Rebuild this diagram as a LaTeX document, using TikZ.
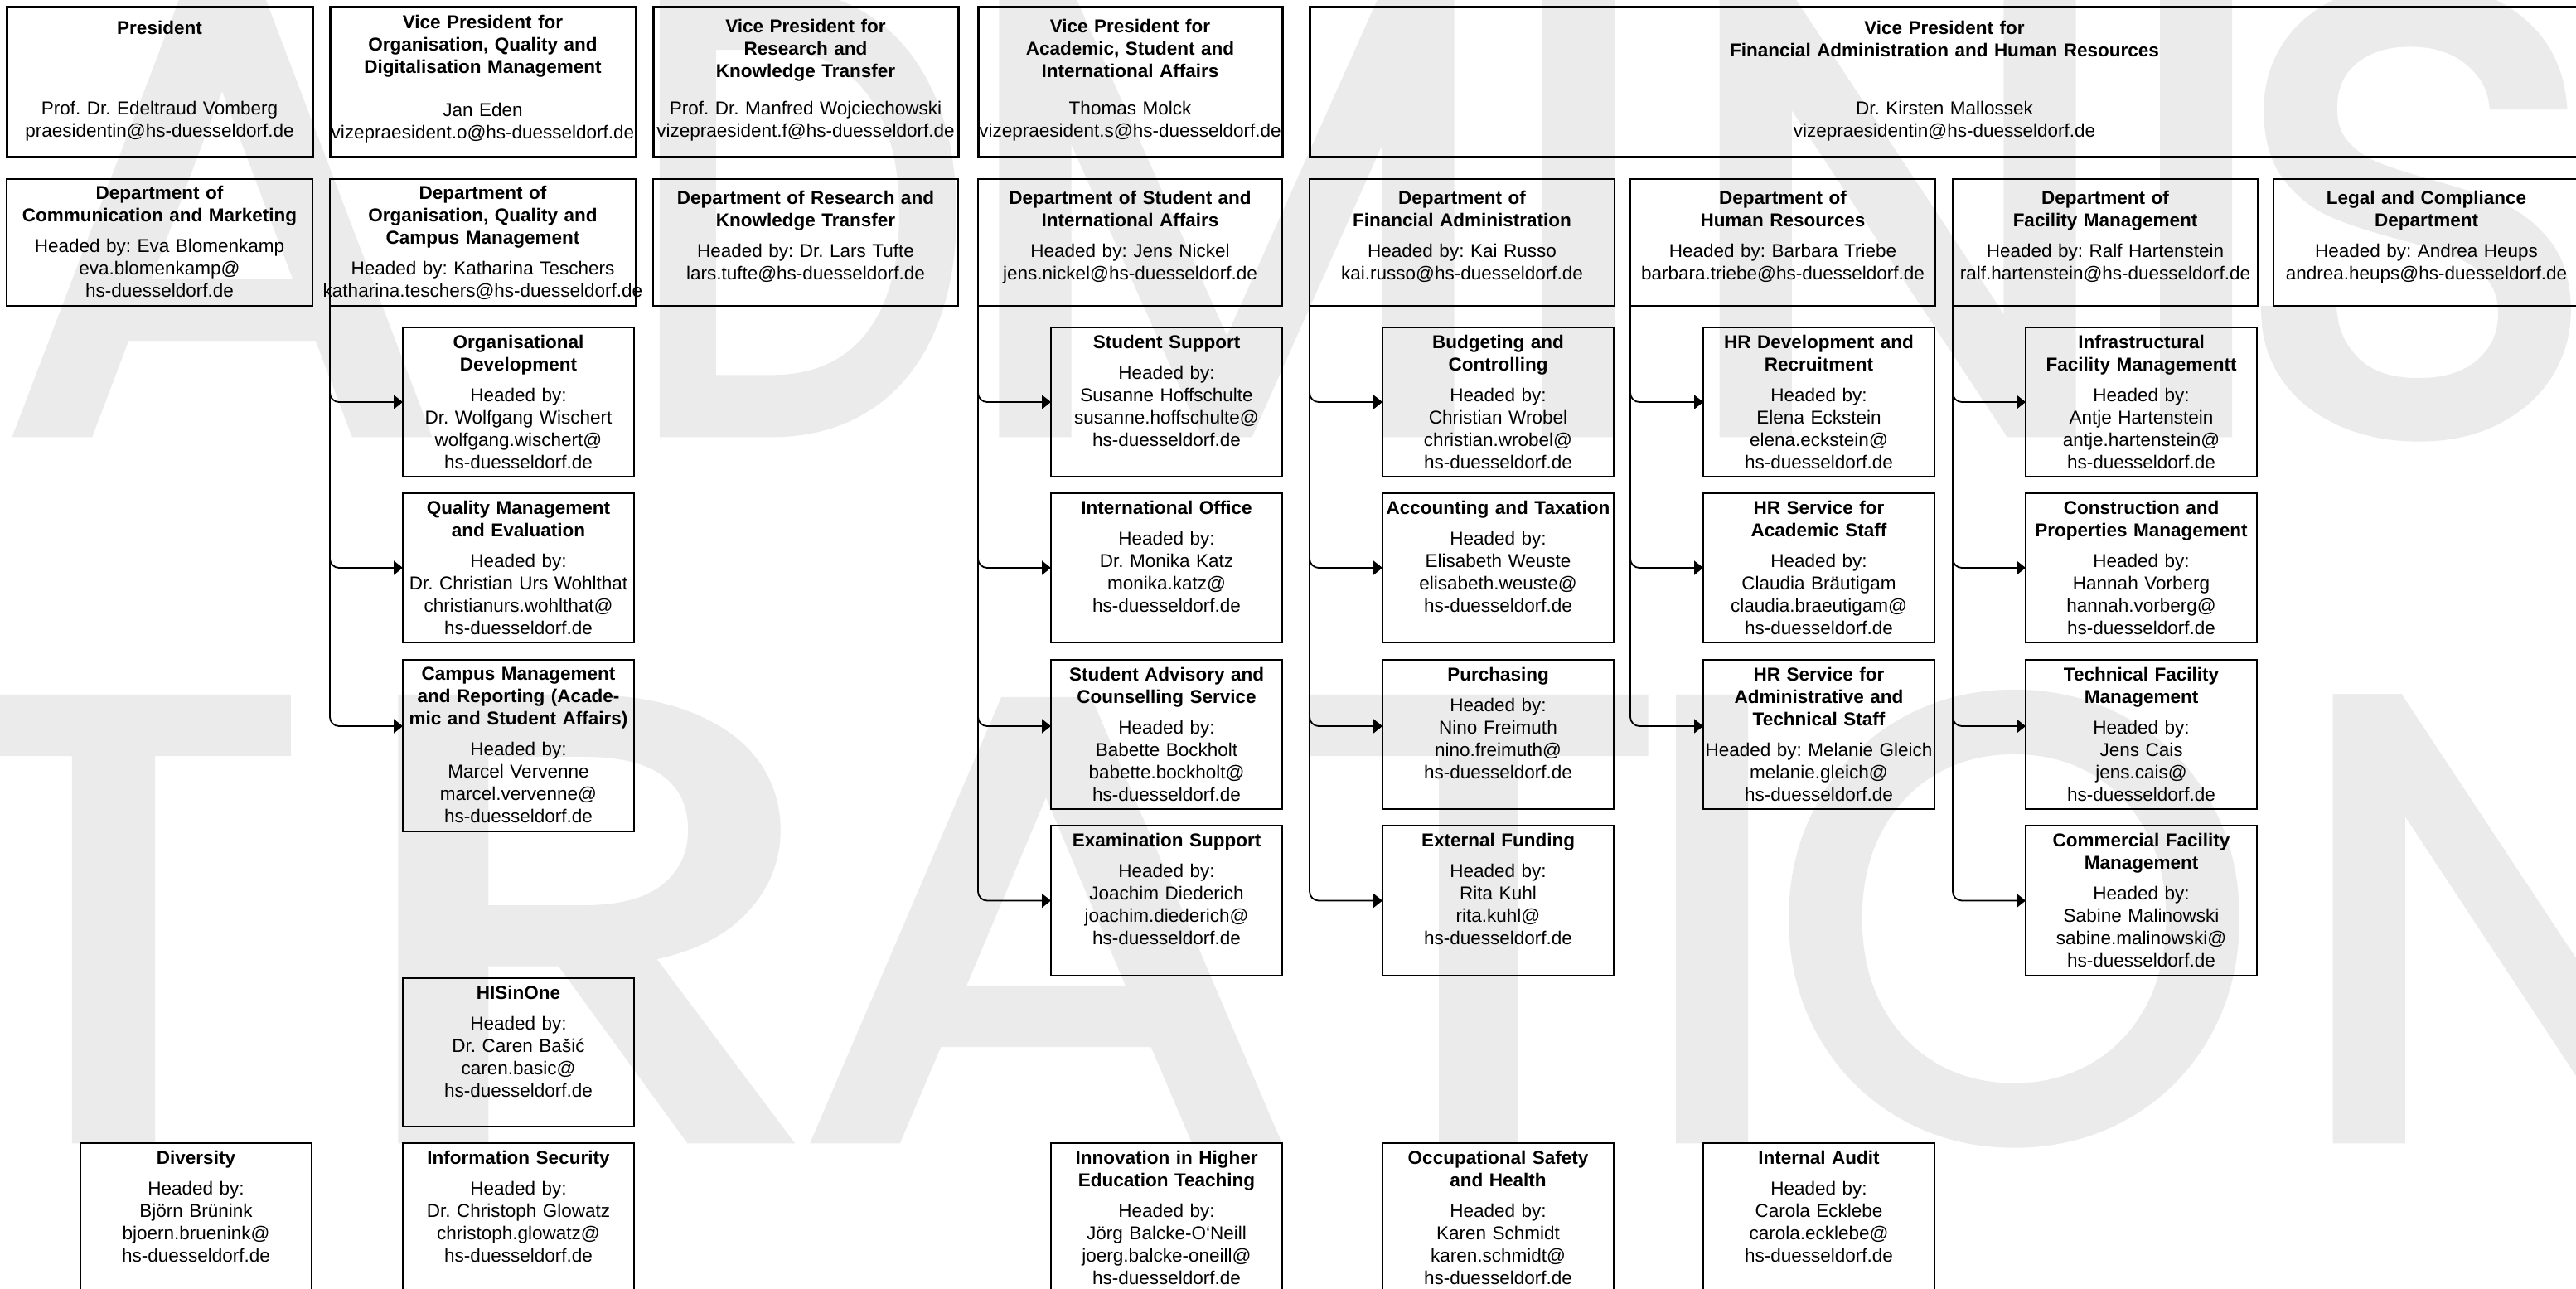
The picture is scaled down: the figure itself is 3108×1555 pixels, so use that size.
\documentclass[tikz,border=0pt]{standalone}
\usepackage{fontspec}
\setmainfont{Liberation Sans}
\newfontfamily\wmfont{Poppins}[FakeBold=2.5]
\usetikzlibrary{arrows.meta}
\definecolor{wmgray}{RGB}{235,235,235}
\newcommand\fsz{\fontsize{22.5}{27}\selectfont}
\newcommand\hb[2]{\textbf{#1}\\[10pt]#2}
\tikzset{
  orgbox/.style={draw=black, line width=1.6pt, inner sep=0pt, outer sep=0pt},
  vpstyle/.style={draw=black, line width=3pt, inner sep=0pt, outer sep=0pt},
  txt/.style={align=center, inner sep=0pt, font=\fsz},
  conn/.style={draw=black, line width=1.8pt, rounded corners=11pt, -{Triangle[length=11pt,width=17pt]}},
  wm/.style={font={\wmfont\fontsize{750}{750}\selectfont}, text=wmgray, anchor=base, inner sep=0pt},
}
% box: [style] name x1 y1 x2 y2  (also sets \tw = text width for the box)
\newcommand\mkbox[6][orgbox]{%
  \node[#1, minimum width={#5-#3}, minimum height={#6-#4}, anchor=north west] (#2) at (#3,#4) {};%
  \pgfmathsetmacro\tw{#5-#3+20}}
% sub box: name x1 y1 x2 y2 text
\newcommand\subbox[6]{%
  \mkbox{#1}{#2}{#3}{#4}{#5}%
  \node[txt, text width=\tw pt, anchor=north] (#1-t) at ([yshift=-9pt]#1.north) {#6};}
% department box: name x1 y1 x2 y2 texttop text
\newcommand\deptbox[7]{%
  \mkbox{#1}{#2}{#3}{#4}{#5}%
  \node[txt, text width=\tw pt, anchor=north] (#1-t) at (#1.center |- 0,#6) {#7};}
% vice president box: name x1 y1 x2 y2 titletop title nametop contact
\newcommand\vpbox[9]{%
  \mkbox[vpstyle]{#1}{#2}{#3}{#4}{#5}%
  \node[txt, text width=\tw pt, anchor=north] (#1-title) at (#1.center |- 0,#6) {\textbf{#7}};%
  \node[txt, text width=\tw pt, anchor=north] (#1-name) at (#1.center |- 0,#8) {#9};}
% watermark letter: name x y xscale letter
\newcommand\wmletter[5]{%
  \begin{scope}[shift={(#2,#3)}]
    \node[wm, xscale=#4, transform shape] (#1) at (0,0) {#5};
  \end{scope}}

\begin{document}
\frenchspacing
\begin{tikzpicture}[x=1pt,y=-1pt]
\useasboundingbox (0,0) rectangle (3108,1555);

% ---------- watermark ----------
\wmletter{wa1}{268}{518}{1.05}{A}
\wmletter{wd1}{965}{518}{0.78}{D}
\wmletter{wm1}{1480}{518}{1}{M}
\wmletter{wi1}{1905}{518}{1}{I}
\wmletter{wn1}{2290}{518}{1}{N}
\wmletter{wi2}{2650}{518}{1}{I}
\wmletter{ws1}{2915}{518}{1}{S}
\wmletter{wt1}{137}{1370}{1.15}{T}
\wmletter{wr1}{705}{1370}{1.25}{R}
\wmletter{wa2}{1262}{1370}{1.18}{A}
\wmletter{wt2}{1784}{1370}{1.1}{T}
\wmletter{wi3}{2066}{1370}{1}{I}
\wmletter{wo1}{2430}{1370}{1}{O}
\wmletter{wn2}{3030}{1370}{1}{N}

% ---------- vice presidents ----------
\vpbox{pres}{8}{9}{377}{189}{25}{President}{122}{Prof. Dr. Edeltraud Vomberg\\praesidentin@hs-duesseldorf.de}
\vpbox{vpo}{398}{9}{767}{189}{18}{Vice President for\\Organisation, Quality and\\Digitalisation Management}{124}{Jan Eden\\vizepraesident.o@hs-duesseldorf.de}
\vpbox{vpr}{788}{9}{1156}{189}{23}{Vice President for\\Research and\\Knowledge Transfer}{122}{Prof. Dr. Manfred Wojciechowski\\vizepraesident.f@hs-duesseldorf.de}
\vpbox{vps}{1180}{9}{1547}{189}{23}{Vice President for\\Academic, Student and\\International Affairs}{122}{Thomas Molck\\vizepraesident.s@hs-duesseldorf.de}
\vpbox{vpf}{1580}{9}{3112}{189}{25}{Vice President for\\Financial Administration and Human Resources}{122}{Dr. Kirsten Mallossek\\vizepraesidentin@hs-duesseldorf.de}

% ---------- departments ----------
\deptbox{dcm}{8}{216}{377}{369}{224}{\hb{Department of\\Communication and Marketing}{Headed by: Eva Blomenkamp\\eva.blomenkamp@\\hs-duesseldorf.de}}
\deptbox{dorg}{398}{216}{767}{369}{224}{\hb{Department of\\Organisation, Quality and\\Campus Management}{Headed by: Katharina Teschers\\katharina.teschers@hs-duesseldorf.de}}
\deptbox{dres}{788}{216}{1156}{369}{230}{\hb{Department of Research and\\Knowledge Transfer}{Headed by: Dr. Lars Tufte\\lars.tufte@hs-duesseldorf.de}}
\deptbox{dstu}{1180}{216}{1547}{369}{230}{\hb{Department of Student and\\International Affairs}{Headed by: Jens Nickel\\jens.nickel@hs-duesseldorf.de}}
\deptbox{dfin}{1580}{216}{1948}{369}{230}{\hb{Department of\\Financial Administration}{Headed by: Kai Russo\\kai.russo@hs-duesseldorf.de}}
\deptbox{dhr}{1967}{216}{2335}{369}{230}{\hb{Department of\\Human Resources}{Headed by: Barbara Triebe\\barbara.triebe@hs-duesseldorf.de}}
\deptbox{dfac}{2356}{216}{2724}{369}{230}{\hb{Department of\\Facility Management}{Headed by: Ralf Hartenstein\\ralf.hartenstein@hs-duesseldorf.de}}
\deptbox{dleg}{2743}{216}{3112}{369}{230}{\hb{Legal and Compliance\\Department}{Headed by: Andrea Heups\\andrea.heups@hs-duesseldorf.de}}

% ---------- organisation column ----------
\subbox{od}{486}{395}{765}{575}{\hb{Organisational\\Development}{Headed by:\\Dr. Wolfgang Wischert\\wolfgang.wischert@\\hs-duesseldorf.de}}
\subbox{qm}{486}{595}{765}{775}{\hb{Quality Management\\and Evaluation}{Headed by:\\Dr. Christian Urs Wohlthat\\christianurs.wohlthat@\\hs-duesseldorf.de}}
\subbox{cm}{486}{796}{765}{1003}{\hb{Campus Management\\and Reporting (Acade-\\mic and Student Affairs)}{Headed by:\\Marcel Vervenne\\marcel.vervenne@\\hs-duesseldorf.de}}
\subbox{his}{486}{1180}{765}{1359}{\hb{HISinOne}{Headed by:\\Dr. Caren Bašić\\caren.basic@\\hs-duesseldorf.de}}
\subbox{isec}{486}{1379}{765}{1560}{\hb{Information Security}{Headed by:\\Dr. Christoph Glowatz\\christoph.glowatz@\\hs-duesseldorf.de}}
\subbox{div}{97}{1379}{376}{1560}{\hb{Diversity}{Headed by:\\Björn Brünink\\bjoern.bruenink@\\hs-duesseldorf.de}}

% ---------- student column ----------
\subbox{ss}{1268}{395}{1547}{575}{\hb{Student Support}{Headed by:\\Susanne Hoffschulte\\susanne.hoffschulte@\\hs-duesseldorf.de}}
\subbox{io}{1268}{595}{1547}{775}{\hb{International Office}{Headed by:\\Dr. Monika Katz\\monika.katz@\\hs-duesseldorf.de}}
\subbox{sa}{1268}{796}{1547}{976}{\hb{Student Advisory and\\Counselling Service}{Headed by:\\Babette Bockholt\\babette.bockholt@\\hs-duesseldorf.de}}
\subbox{es}{1268}{996}{1547}{1177}{\hb{Examination Support}{Headed by:\\Joachim Diederich\\joachim.diederich@\\hs-duesseldorf.de}}
\subbox{iht}{1268}{1379}{1547}{1560}{\hb{Innovation in Higher\\Education Teaching}{Headed by:\\Jörg Balcke-O‘Neill\\joerg.balcke-oneill@\\hs-duesseldorf.de}}

% ---------- financial column ----------
\subbox{bc}{1668}{395}{1947}{575}{\hb{Budgeting and\\Controlling}{Headed by:\\Christian Wrobel\\christian.wrobel@\\hs-duesseldorf.de}}
\subbox{at}{1668}{595}{1947}{775}{\hb{Accounting and Taxation}{Headed by:\\Elisabeth Weuste\\elisabeth.weuste@\\hs-duesseldorf.de}}
\subbox{pu}{1668}{796}{1947}{976}{\hb{Purchasing}{Headed by:\\Nino Freimuth\\nino.freimuth@\\hs-duesseldorf.de}}
\subbox{ef}{1668}{996}{1947}{1177}{\hb{External Funding}{Headed by:\\Rita Kuhl\\rita.kuhl@\\hs-duesseldorf.de}}
\subbox{osh}{1668}{1379}{1947}{1560}{\hb{Occupational Safety\\and Health}{Headed by:\\Karen Schmidt\\karen.schmidt@\\hs-duesseldorf.de}}

% ---------- human resources column ----------
\subbox{hrd}{2055}{395}{2334}{575}{\hb{HR Development and\\Recruitment}{Headed by:\\Elena Eckstein\\elena.eckstein@\\hs-duesseldorf.de}}
\subbox{hra}{2055}{595}{2334}{775}{\hb{HR Service for\\Academic Staff}{Headed by:\\Claudia Bräutigam\\claudia.braeutigam@\\hs-duesseldorf.de}}
\subbox{hrt}{2055}{796}{2334}{976}{\hb{HR Service for\\Administrative and\\Technical Staff}{Headed by: Melanie Gleich\\melanie.gleich@\\hs-duesseldorf.de}}
\subbox{ia}{2055}{1379}{2334}{1560}{\hb{Internal Audit}{Headed by:\\Carola Ecklebe\\carola.ecklebe@\\hs-duesseldorf.de}}

% ---------- facility column ----------
\subbox{ifm}{2444}{395}{2723}{575}{\hb{Infrastructural\\Facility Managementt}{Headed by:\\Antje Hartenstein\\antje.hartenstein@\\hs-duesseldorf.de}}
\subbox{cpm}{2444}{595}{2723}{775}{\hb{Construction and\\Properties Management}{Headed by:\\Hannah Vorberg\\hannah.vorberg@\\hs-duesseldorf.de}}
\subbox{tfm}{2444}{796}{2723}{976}{\hb{Technical Facility\\Management}{Headed by:\\Jens Cais\\jens.cais@\\hs-duesseldorf.de}}
\subbox{cfm}{2444}{996}{2723}{1177}{\hb{Commercial Facility\\Management}{Headed by:\\Sabine Malinowski\\sabine.malinowski@\\hs-duesseldorf.de}}

% ---------- connectors ----------
\draw[conn] (dorg.south west) |- (od.west);
\draw[conn] (dorg.south west) |- (qm.west);
\draw[conn] (dorg.south west) |- ([yshift=23.5pt]cm.west);

\draw[conn] (dstu.south west) |- (ss.west);
\draw[conn] (dstu.south west) |- (io.west);
\draw[conn] (dstu.south west) |- ([yshift=10pt]sa.west);
\draw[conn] (dstu.south west) |- (es.west);

\draw[conn] (dfin.south west) |- (bc.west);
\draw[conn] (dfin.south west) |- (at.west);
\draw[conn] (dfin.south west) |- ([yshift=10pt]pu.west);
\draw[conn] (dfin.south west) |- (ef.west);

\draw[conn] (dhr.south west) |- (hrd.west);
\draw[conn] (dhr.south west) |- (hra.west);
\draw[conn] (dhr.south west) |- ([yshift=10pt]hrt.west);

\draw[conn] (dfac.south west) |- (ifm.west);
\draw[conn] (dfac.south west) |- (cpm.west);
\draw[conn] (dfac.south west) |- ([yshift=10pt]tfm.west);
\draw[conn] (dfac.south west) |- (cfm.west);
\end{tikzpicture}
\end{document}
